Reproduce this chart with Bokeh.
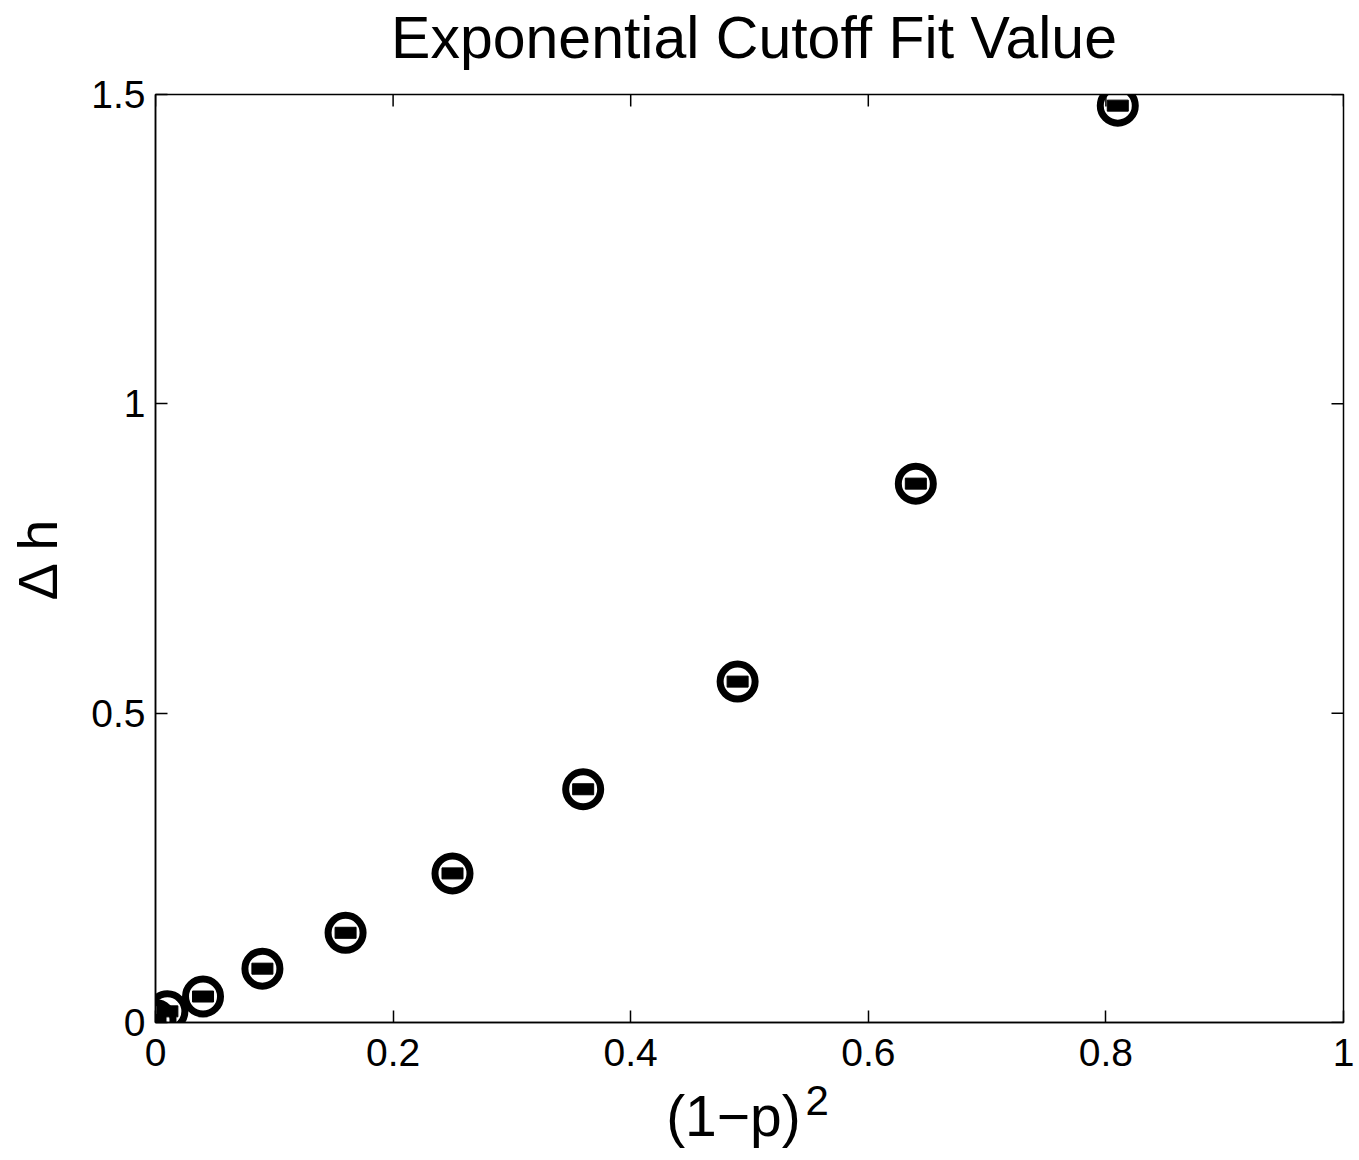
import math
from bokeh.plotting import figure
from bokeh.models import LinearAxis, FixedTicker, Range1d
from bokeh.embed import file_html
from bokeh.resources import INLINE

x_vals = [0.0, 0.01, 0.04, 0.09, 0.16, 0.25, 0.36, 0.49, 0.64, 0.81]
y_vals = [0.004, 0.018, 0.042, 0.087, 0.145, 0.241, 0.377, 0.551, 0.871, 1.482]
x_ticks = [0, 0.2, 0.4, 0.6, 0.8, 1.0]
x_tick_labels = ["0", "0.2", "0.4", "0.6", "0.8", "1"]
y_ticks = [0, 0.5, 1.0, 1.5]
y_tick_labels = ["0", "0.5", "1", "1.5"]
chart_title = "Exponential Cutoff Fit Value"
x_title_base = "(1\u2212p)"
x_title_sup = "2"
y_title = "\u0394 h"

FONT = "Liberation Sans"
X_MIN, X_MAX = 0, 1
Y_MIN, Y_MAX = 0, 1.5
TITLE_POS = 0.5038  # horizontal anchor of the chart title
BASE_POS = 0.4865   # horizontal anchor of "(1-p)" below the axis
SUP_POS = 0.557     # horizontal anchor of the superscript "2"

p = figure(width=1355, height=1156, output_backend="svg", toolbar_location=None,
           x_range=Range1d(X_MIN, X_MAX), y_range=Range1d(Y_MIN, Y_MAX),
           min_border_left=155, min_border_right=12, min_border_top=94,
           min_border_bottom=134, x_axis_location=None, y_axis_location=None)
p.title = None

p.xgrid.visible = False
p.ygrid.visible = False
p.outline_line_color = "black"
p.outline_line_width = 1.5
p.background_fill_color = "white"
p.border_fill_color = "white"

def make_axis(ticks, labels, font_size):
    ax = LinearAxis(ticker=FixedTicker(ticks=ticks))
    ax.major_label_overrides = {t: l for t, l in zip(ticks, labels)}
    ax.major_tick_in = 12
    ax.major_tick_out = 0
    ax.minor_tick_in = 0
    ax.minor_tick_out = 0
    ax.axis_line_color = "black"
    ax.axis_line_width = 1.5
    ax.major_tick_line_width = 1.5
    ax.major_label_text_font = FONT
    ax.major_label_text_color = "black"
    ax.major_label_text_font_size = font_size
    return ax

def text_only(ax):
    ax.axis_line_color = None
    ax.major_tick_line_color = None
    ax.minor_tick_line_color = None
    ax.major_tick_in = 0
    return ax

# chart title, drawn as a text-only row above the frame
t_ax = text_only(make_axis([TITLE_POS], [chart_title], "59px"))
t_ax.major_label_standoff = 24
p.add_layout(t_ax, "above")

xb = make_axis(x_ticks, x_tick_labels, "39px")
xb.major_label_standoff = 16
p.add_layout(xb, "below")

# x axis title "(1-p)^2" drawn as two text rows so that the 2 is raised
x_base = text_only(make_axis([BASE_POS], [x_title_base], "57px"))
x_base.major_label_standoff = 15
p.add_layout(x_base, "below")
x_sup = text_only(make_axis([SUP_POS], [x_title_sup], "42px"))
x_sup.major_label_standoff = -65
p.add_layout(x_sup, "below")

yl = make_axis(y_ticks, y_tick_labels, "39px")
yl.major_label_standoff = 10
yl.axis_label = y_title
yl.axis_label_text_font = FONT
yl.axis_label_text_font_style = "normal"
yl.axis_label_text_color = "black"
yl.axis_label_standoff = 19
yl.axis_label_text_font_size = "56px"
p.add_layout(yl, "left")

# mirrored inward ticks on the top and right edges (half clipped by the frame)
p.scatter([X_MAX] * len(y_ticks), y_ticks, marker="dash", size=24,
          line_color="black", line_width=1.5)
p.scatter(x_ticks, [Y_MAX] * len(x_ticks), marker="dash", size=24, angle=math.pi / 2,
          line_color="black", line_width=1.5)

p.scatter(x_vals, y_vals, marker="circle", size=35, fill_color=None,
          line_color="black", line_width=7)
p.rect(x_vals, y_vals, width=21, height=11, width_units="screen",
       height_units="screen", fill_color="black", line_color="black")

open("out.html", "w").write(file_html(p, INLINE))
